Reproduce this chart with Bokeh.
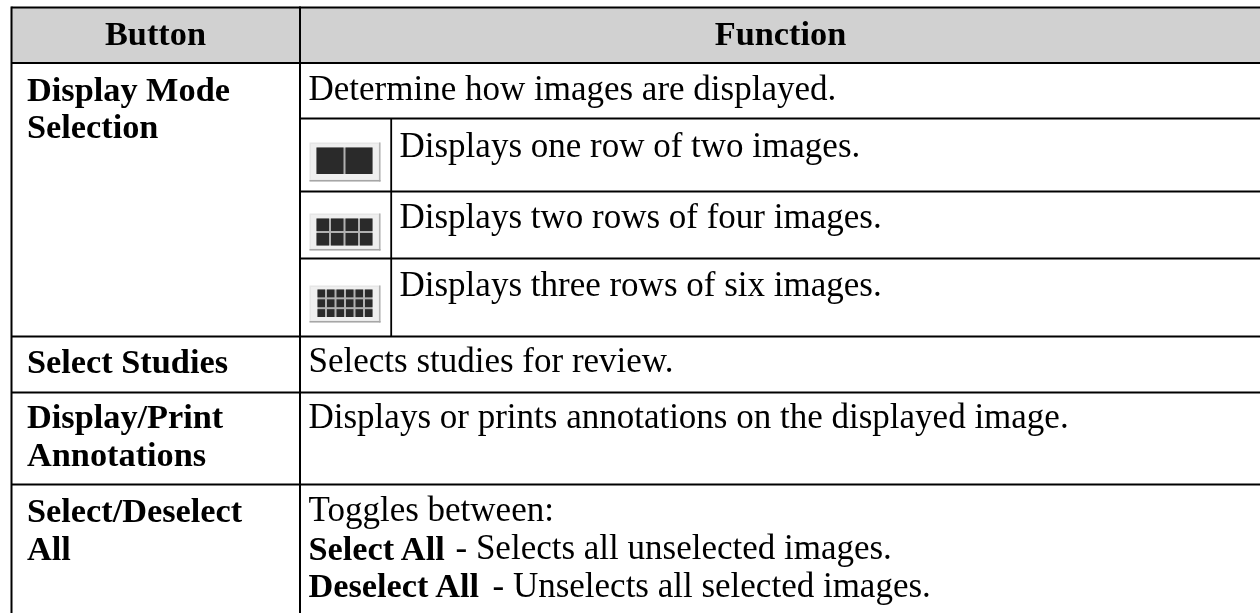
from bokeh.plotting import figure
from bokeh.models import Range1d
from bokeh.core.properties import value
from bokeh.embed import file_html
from bokeh.resources import INLINE

FONT = "Liberation Serif"
SIZE = "35px"
BOLD_SIZE = "34.3px"
SHIFT = -12.5

# Table content
header_labels = ["Button", "Function"]
button_names = [["Display Mode", "Selection"], ["Select Studies"],
                ["Display/Print", "Annotations"], ["Select/Deselect", "All"]]
function_texts = ["Determine how images are displayed.",
                  "Displays one row of two images.",
                  "Displays two rows of four images.",
                  "Displays three rows of six images.",
                  "Selects studies for review.",
                  "Displays or prints annotations on the displayed image.",
                  "Toggles between:"]
toggle_bold = ["Select All", "Deselect All"]
toggle_plain = ["- Selects all unselected images.", "- Unselects all selected images."]
icon_grids = [(1, 2), (2, 4), (3, 6)]  # rows, columns of image tiles

W, H = 1260, 613
p = figure(width=W, height=H, x_range=Range1d(0, W), y_range=Range1d(H, 0),
           output_backend="svg", toolbar_location=None, min_border=0,
           background_fill_color="white", border_fill_color="white",
           styles={"position": "fixed", "left": "0px", "top": "0px"})
p.axis.visible = False
p.grid.visible = False
p.outline_line_color = None

# Layout of the table (screen pixels)
X0, X1, XS, XE = 11, 299.5, 390.7, 1262
Y_TOP, Y_HEAD, Y_DET = 7, 62.5, 118
Y_ROWS = [191, 258, 336, 392, 484]

p.quad(left=[X0], right=[XE], top=[Y_TOP], bottom=[Y_HEAD], fill_color="#d1d1d1", line_color=None)

# Icons
icon_boxes = [(309, 142, 380, 181), (309, 213, 380, 250), (309, 285, 380, 322)]
icon_cells = [(316, 147, 372, 173.5), (316, 218, 372, 245), (317, 289, 372, 316.5)]
for (bx0, by0, bx1, by1), (cx0, cy0, cx1, cy1), (nr, nc) in zip(icon_boxes, icon_cells, icon_grids):
    p.quad(left=[bx0], right=[bx1], top=[by0], bottom=[by1], fill_color="#e6e6e6", line_color=None)
    p.quad(left=[bx0 + 1.5], right=[bx1 - 2], top=[by0 + 1.5], bottom=[by1 - 2], fill_color="#efefef", line_color=None)
    p.quad(left=[bx1 - 1.5], right=[bx1], top=[by0], bottom=[by1], fill_color="#b4b4b4", line_color=None)
    p.quad(left=[bx0], right=[bx1], top=[by1 - 1.5], bottom=[by1], fill_color="#a6a6a6", line_color=None)
    p.quad(left=[cx0], right=[cx1], top=[cy0], bottom=[cy1], fill_color="#b0b0b0", line_color=None)
    gap = 2
    cw = (cx1 - cx0 - gap * (nc - 1)) / nc
    ch = (cy1 - cy0 - gap * (nr - 1)) / nr
    L, R, T, B = [], [], [], []
    for r in range(nr):
        for c in range(nc):
            L.append(cx0 + c * (cw + gap)); R.append(cx0 + c * (cw + gap) + cw)
            T.append(cy0 + r * (ch + gap)); B.append(cy0 + r * (ch + gap) + ch)
    p.quad(left=L, right=R, top=T, bottom=B, fill_color="#2a2a2a", line_color=None)

# Rules
hlines = [(X0, XE, Y_TOP, 2), (X0, XE, Y_HEAD, 2), (X1, XE, Y_DET, 1.8), (X1, XE, Y_ROWS[0], 1.8),
          (X1, XE, Y_ROWS[1], 1.8), (X0, XE, Y_ROWS[2], 2), (X0, XE, Y_ROWS[3], 2), (X0, XE, Y_ROWS[4], 2)]
for x0, x1, y, w in hlines:
    p.line([x0, x1], [y, y], line_color="black", line_width=w)
vlines = [(X0, Y_TOP - 1, H, 2), (X1, Y_TOP - 1, H, 2), (XS, Y_DET, Y_ROWS[2], 1.8)]
for x, y0, y1, w in vlines:
    p.line([x, x], [y0, y1], line_color="black", line_width=w)

def txt(x, y, s, bold=False, align="left"):
    p.text([x], [y], text=[s], text_font=value(FONT), text_font_size=BOLD_SIZE if bold else SIZE,
           text_font_style="bold" if bold else "normal", text_align=align,
           text_baseline="alphabetic", text_color="black", y_offset=SHIFT)

# Header
txt(155, 45, header_labels[0], True, "center")
txt(780, 45, header_labels[1], True, "center")

# Button column
name_y = [[100.5, 138], [372.5], [428, 466], [521.5, 559.5]]
for lines, ys in zip(button_names, name_y):
    for s, y in zip(lines, ys):
        txt(26.5, y, s, True)

# Function column
fx = [308, 399, 399, 399, 308, 308, 308]
fy = [100.5, 157, 228, 296.5, 372.5, 428, 521.5]
for s, x, y in zip(function_texts, fx, fy):
    txt(x, y, s)

# Toggle details
ty = [559.5, 597]
tx = [455, 492]
for b, s, y, x in zip(toggle_bold, toggle_plain, ty, tx):
    txt(308, y, b, True)
    txt(x, y, s)

open("out.html", "w").write(file_html(p, INLINE))
